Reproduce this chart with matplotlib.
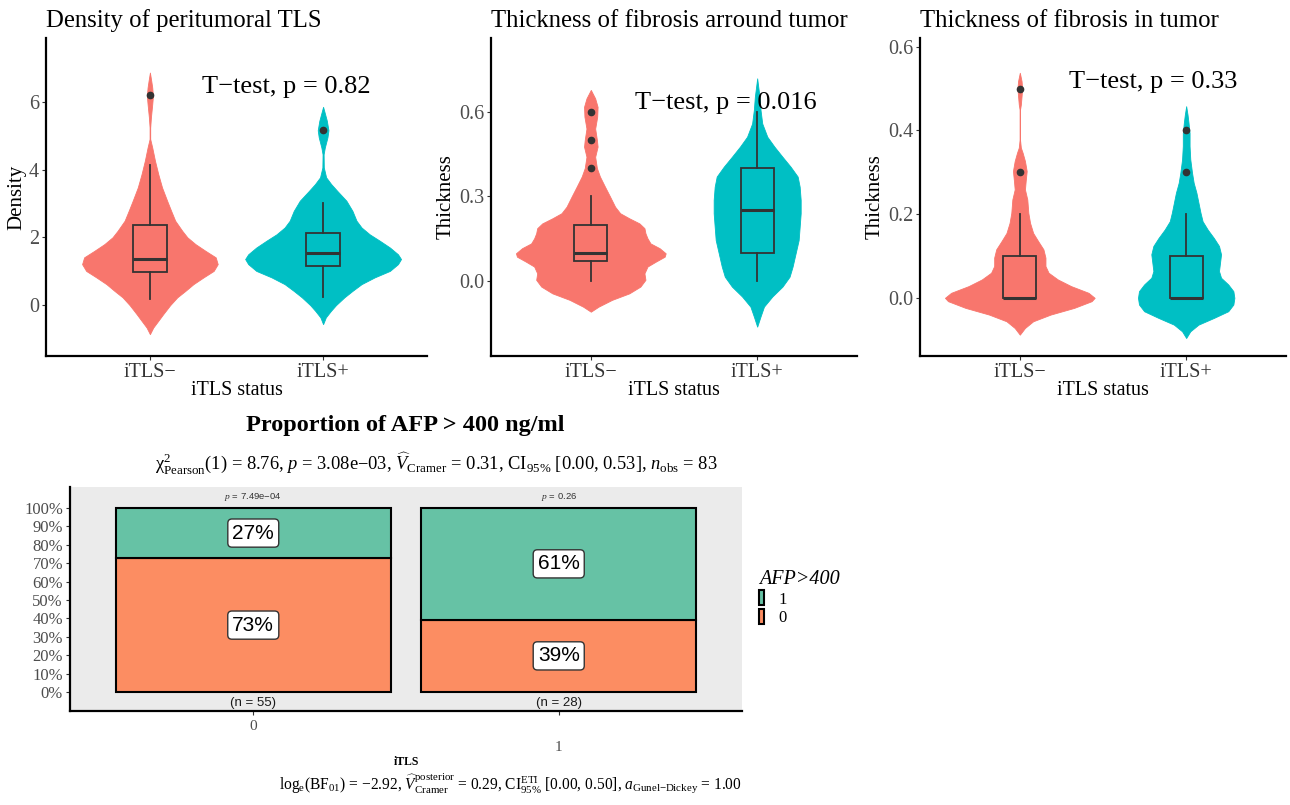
import numpy as np
import matplotlib.pyplot as plt

plt.rcParams['font.family'] = ['Liberation Serif', 'DejaVu Serif']
plt.rcParams['mathtext.fontset'] = 'custom'
plt.rcParams['mathtext.rm'] = 'Liberation Serif'
plt.rcParams['mathtext.it'] = 'Liberation Serif:italic'
plt.rcParams['mathtext.bf'] = 'Liberation Serif:bold'

groups = ['iTLS−', 'iTLS+']
RED, TEAL = '#F8766D', '#00BFC4'

# violin outlines: y value and relative half-width

# ---- panel 1: density of peritumoral TLS ----
dens_neg_y = [-0.855, -0.66, -0.46, -0.27, 0.0, 0.23, 0.42, 0.62, 0.82, 1.01, 1.21, 1.41, 1.6, 1.8,
              2.0, 2.19, 2.49, 2.78, 3.08, 3.47, 3.86, 4.26, 4.65, 4.9, 5.24, 5.54, 5.93, 6.17,
              6.42, 6.62, 6.86]
dens_neg_w = [0, 3.3, 8.3, 13, 20, 27, 35, 43, 53, 63, 67, 65, 55, 45,
              37, 32, 25, 21, 17, 12, 8.3, 5, 2.3, 0.3, 0.3, 1, 2.3, 3,
              2.3, 1.3, 0]
dens_pos_y = [-0.56, -0.36, -0.17, 0.0, 0.23, 0.42, 0.62, 0.82, 1.01, 1.21, 1.36, 1.5, 1.7, 1.9,
              2.09, 2.29, 2.49, 2.78, 3.08, 3.37, 3.57, 3.77, 4.06, 4.45, 4.65, 4.95, 5.16, 5.44,
              5.63, 5.85]
dens_pos_w = [0, 2.7, 7.7, 12.7, 21, 29, 38, 51, 66, 74, 77, 74, 66, 56,
              46, 38, 33, 29, 23, 14, 8, 3, 0.7, 0.5, 1.7, 4.3, 5.3, 3.7,
              2, 0]
# whislo, q1, median, q3, whishi
dens_box = [[0.17, 0.98, 1.35, 2.35, 4.13], [0.24, 1.16, 1.55, 2.14, 3.0]]
dens_out = [[6.2], [5.18]]

# ---- panel 2: thickness of fibrosis around tumor ----
around_neg_y = [-0.109, -0.091, -0.067, -0.044, -0.02, 0.004, 0.027, 0.051, 0.068, 0.086, 0.098,
                0.116, 0.133, 0.151, 0.169, 0.187, 0.204, 0.222, 0.24, 0.263, 0.299, 0.334, 0.37,
                0.4, 0.44, 0.476, 0.5, 0.54, 0.582, 0.617, 0.647, 0.677]
around_neg_w = [0, 7.7, 21, 38, 49, 54, 53, 56, 64, 73, 74,
                68, 59, 56, 54, 53, 48, 38, 29, 24, 19, 14, 9,
                6, 4.3, 6.7, 6, 4.3, 6.3, 6.7, 4.3, 0]
around_pos_y = [-0.162, -0.126, -0.091, -0.055, -0.02, 0.015, 0.051, 0.098, 0.145, 0.192, 0.24,
                0.287, 0.334, 0.37, 0.405, 0.44, 0.476, 0.511, 0.558, 0.606, 0.653, 0.718]
around_pos_w = [0, 3.3, 6.7, 15, 25, 32, 35, 38, 41, 42, 43,
                43, 42, 40, 33, 25, 17, 10, 5, 3.3, 2.3, 0]
around_box = [[0.0, 0.072, 0.1, 0.2, 0.3], [0.0, 0.1, 0.25, 0.4, 0.6]]
around_out = [[0.4, 0.5, 0.6], []]

# ---- panel 3: thickness of fibrosis in tumor ----
in_neg_y = [-0.088, -0.072, -0.056, -0.04, -0.024, -0.008, 0.0, 0.012, 0.028, 0.044, 0.06, 0.076,
            0.096, 0.116, 0.135, 0.155, 0.179, 0.203, 0.235, 0.259, 0.279, 0.303, 0.327, 0.347,
            0.359, 0.378, 0.45, 0.462, 0.482, 0.5, 0.518, 0.538]
in_neg_w = [0, 5, 13, 30, 53, 70, 73, 67, 50, 37, 28, 25,
            25, 23, 18, 13, 10, 8.3, 7.3, 5, 5.7, 6.7, 5, 2.7,
            1, 0.2, 0.2, 1, 1.7, 2.3, 1.7, 0]
in_pos_y = [-0.096, -0.08, -0.064, -0.048, -0.032, -0.016, 0.0, 0.016, 0.032, 0.048, 0.064, 0.084,
            0.104, 0.124, 0.143, 0.163, 0.183, 0.203, 0.227, 0.251, 0.275, 0.299, 0.331, 0.363,
            0.394, 0.418, 0.438, 0.458]
in_pos_w = [0, 4, 12, 27, 41, 46, 47, 46, 41, 34, 32, 33,
            34, 32, 27, 21, 16, 14, 12, 10, 7.3, 5.7, 4, 3.3,
            3.3, 2.3, 1.3, 0]
in_box = [[0.0, 0.0, 0.0, 0.1, 0.2], [0.0, 0.0, 0.0, 0.1, 0.2]]
in_out = [[0.3, 0.5], [0.3, 0.4]]

panels = [
    dict(title='Density of peritumoral TLS', ylabel='Density', ylim=(-1.5, 7.88),
         yticks=[0, 2, 4, 6], yfmt='{:.0f}', ptext='T−test, p = 0.82', ppos=(1.79, 6.43),
         violins=[(dens_neg_y, dens_neg_w), (dens_pos_y, dens_pos_w)], box=dens_box, out=dens_out,
         rect=[46, 427]),
    dict(title='Thickness of fibrosis arround tumor', ylabel='Thickness', ylim=(-0.266, 0.861),
         yticks=[0.0, 0.3, 0.6], yfmt='{:.1f}', ptext='T−test, p = 0.016', ppos=(1.81, 0.63),
         violins=[(around_neg_y, around_neg_w), (around_pos_y, around_pos_w)], box=around_box,
         out=around_out, rect=[491, 857]),
    dict(title='Thickness of fibrosis in tumor', ylabel='Thickness', ylim=(-0.139, 0.621),
         yticks=[0.0, 0.2, 0.4, 0.6], yfmt='{:.1f}', ptext='T−test, p = 0.33', ppos=(1.80, 0.516),
         violins=[(in_neg_y, in_neg_w), (in_pos_y, in_pos_w)], box=in_box, out=in_out,
         rect=[920, 1286]),
]

# ---- bottom: proportion of AFP > 400 ----
afp_groups = ['0', '1']
afp_count_0 = [40, 11]
afp_count_1 = [15, 17]
afp_pvals = ['7.49e−04', '0.26']

W, H = 1290, 805
fig = plt.figure(figsize=(W / 100, H / 100), dpi=100)

for p in panels:
    x0, x1 = p['rect']
    ax = fig.add_axes([x0 / W, (H - 356) / H, (x1 - x0) / W, 318 / H])
    maxw = max(max(w) for _, w in p['violins'])
    for i, (vy, vw) in enumerate(p['violins']):
        hw = np.array(vw) / maxw * 0.45
        ax.fill_betweenx(vy, i + 1 - hw, i + 1 + hw, color=[RED, TEAL][i], lw=0.6,
                         edgecolor=[RED, TEAL][i], zorder=1)
    stats = []
    for b, o in zip(p['box'], p['out']):
        stats.append(dict(whislo=b[0], q1=b[1], med=b[2], q3=b[3], whishi=b[4], fliers=o))
    bp = ax.bxp(stats, positions=[1, 2], widths=0.2, patch_artist=True, showcaps=False,
                boxprops=dict(edgecolor='#333333', linewidth=1.3),
                whiskerprops=dict(color='#333333', linewidth=1.3),
                medianprops=dict(color='#333333', linewidth=2.2),
                flierprops=dict(marker='o', markersize=4.5, markerfacecolor='#333333',
                                markeredgecolor='#333333'))
    for patch, c in zip(bp['boxes'], [RED, TEAL]):
        patch.set_facecolor(c)
    ax.set_xlim(0.4, 2.6)
    ax.set_ylim(*p['ylim'])
    ax.set_xticks([1, 2])
    ax.set_xticklabels(groups, fontsize=14.5, color='#333333')
    ax.set_yticks(p['yticks'])
    ax.set_yticklabels([p['yfmt'].format(v) for v in p['yticks']], fontsize=14.5, color='#4D4D4D')
    ax.tick_params(length=3, width=0.8, color='#333333', pad=2)
    for s in ['top', 'right']:
        ax.spines[s].set_visible(False)
    for s in ['left', 'bottom']:
        ax.spines[s].set_linewidth(1.6)
    ax.set_title(p['title'], loc='left', fontsize=17.8, pad=8)
    ax.set_ylabel(p['ylabel'], fontsize=15, labelpad=2)
    ax.set_xlabel('iTLS status', fontsize=14.4, labelpad=-1)
    ax.text(p['ppos'][0], p['ppos'][1], p['ptext'], fontsize=19, ha='center', va='center')

# bottom contingency bar chart
bx = fig.add_axes([70 / W, (H - 711) / H, 672 / W, 224 / H])
bx.set_facecolor('#EBEBEB')
n0 = np.array(afp_count_0)
n1 = np.array(afp_count_1)
tot = n0 + n1
p0 = n0 / tot
p1 = n1 / tot
xpos = np.arange(1, len(afp_groups) + 1)
b0 = bx.bar(xpos, p0, width=0.9, color='#FC8D62', edgecolor='black', linewidth=1.5)
b1 = bx.bar(xpos, p1, bottom=p0, width=0.9, color='#66C2A5', edgecolor='black', linewidth=1.5)
lab_box = dict(boxstyle='round,pad=0.22,rounding_size=0.2', fc='white', ec='#333333', lw=1)
for xi, a, b, n, pv in zip(xpos, p0, p1, tot, afp_pvals):
    bx.text(xi, a / 2, f'{round(a * 100)}%', family='Liberation Sans', fontsize=15,
            ha='center', va='center', bbox=lab_box)
    bx.text(xi, a + b / 2, f'{round(b * 100)}%', family='Liberation Sans', fontsize=15,
            ha='center', va='center', bbox=lab_box)
    bx.text(xi, 1.06, f'$p$ = {pv}', family='Liberation Sans', fontsize=6.8,
            ha='center', va='center', color='#333333')
    bx.text(xi, -0.058, f'(n = {n})', family='Liberation Sans', fontsize=9.5,
            ha='center', va='center', color='#1A1A1A')
bx.set_xlim(0.4, 2.6)
bx.set_ylim(-0.103, 1.114)
yt = np.round(np.arange(0, 1.01, 0.1), 1)
bx.set_yticks(yt)
bx.set_yticklabels([f'{int(round(v * 100))}%' for v in yt], fontsize=12, color='#4D4D4D')
bx.set_xticks(xpos)
bx.set_xticklabels([])
for i, g in enumerate(afp_groups):
    bx.text(xpos[i], [-0.071, -0.161][i], g, transform=bx.get_xaxis_transform(),
            fontsize=11, color='#4D4D4D', ha='center', va='center')
bx.tick_params(length=3, width=0.8, color='#333333', pad=2)
for s in ['top', 'right']:
    bx.spines[s].set_visible(False)
for s in ['left', 'bottom']:
    bx.spines[s].set_linewidth(1.6)
bx.text(0.5, -0.228, 'iTLS', transform=bx.transAxes, fontsize=8.5, fontweight='bold',
        ha='center', va='center')

fig.text(405 / W, 1 - 425 / H, 'Proportion of AFP > 400 ng/ml', fontsize=17.5,
         fontweight='bold', ha='center', va='center')
fig.text(436 / W, 1 - 463 / H,
         r'χ$^2_{\mathrm{Pearson}}$(1) = 8.76, $p$ = 3.08e−03, $\widehat{V}_{\mathrm{Cramer}}$ = 0.31, '
         r'CI$_{95\%}$ [0.00, 0.53], $n_{\mathrm{obs}}$ = 83',
         fontsize=13.3, ha='center', va='center')
fig.text(742 / W, 1 - 783 / H,
         r'log$_{\mathrm{e}}$(BF$_{01}$) = −2.92, $\widehat{V}^{\mathrm{posterior}}_{\mathrm{Cramer}}$ = 0.29, '
         r'CI$^{\mathrm{ETI}}_{95\%}$ [0.00, 0.50], $a_{\mathrm{Gunel{-}Dickey}}$ = 1.00',
         fontsize=11.2, ha='right', va='center')

leg = fig.legend(handles=[b1, b0], labels=['1', '0'], title='AFP>400', loc='upper left',
                 bbox_to_anchor=(752 / W, 1 - 563 / H), frameon=False, fontsize=12,
                 handlelength=0.3, handleheight=1.0, handletextpad=0.9, labelspacing=0.1,
                 alignment='left', borderaxespad=0)
leg.get_title().set_fontstyle('italic')
leg.get_title().set_fontsize(14.5)

fig.savefig('out.png', dpi=100)
